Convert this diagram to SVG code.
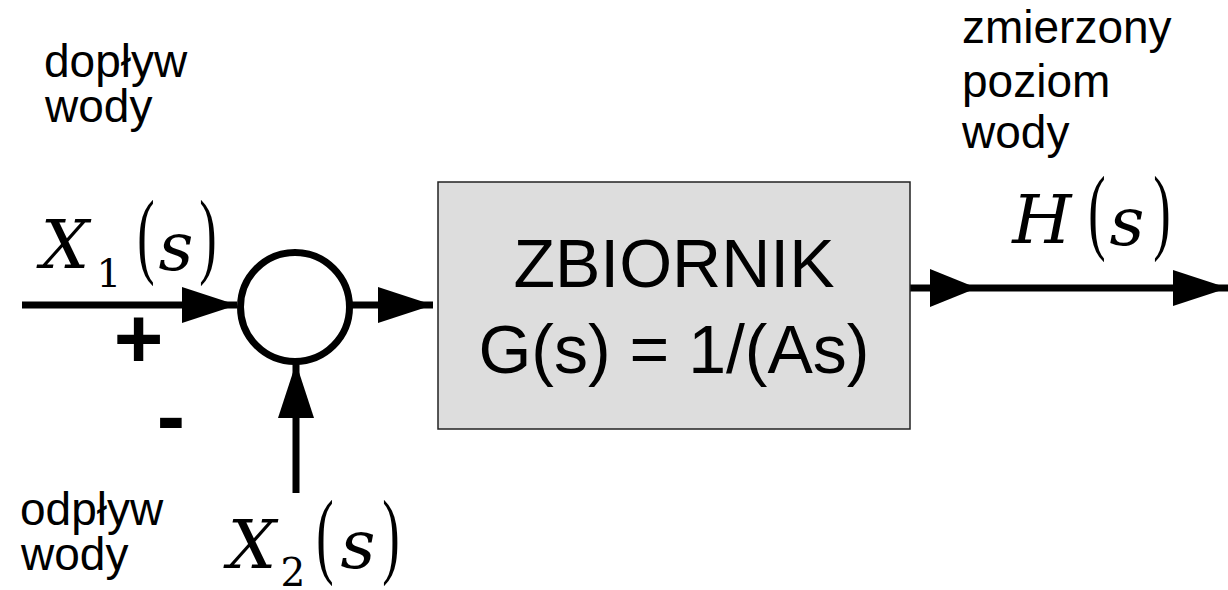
<svg xmlns="http://www.w3.org/2000/svg" width="1228" height="590" viewBox="0 0 1228 590">
<style>
.lbl{font-family:"Liberation Sans",Arial,sans-serif;font-size:46px;fill:#000}
.box{font-family:"Liberation Sans",Arial,sans-serif;font-size:68px;fill:#000;text-anchor:middle}
.sign{font-family:"Liberation Sans",Arial,sans-serif;font-size:85px;font-weight:bold;fill:#000;text-anchor:middle}
.m{font-family:"DejaVu Serif","Liberation Serif",serif;font-style:italic;font-size:68px;fill:#000;text-anchor:middle}
.sub{font-family:"DejaVu Serif","Liberation Serif",serif;font-size:39px;fill:#000;text-anchor:middle}
.par{font-family:"Liberation Serif","Times New Roman",serif;font-size:95px;fill:#000;text-anchor:middle}
.wire{stroke:#000;stroke-width:7;fill:none}
</style>
<defs>
<marker id="ah" viewBox="0 0 55 36" refX="55" refY="18" markerWidth="55" markerHeight="36" markerUnits="userSpaceOnUse" orient="auto">
<polygon points="0,0 55,18 0,36" fill="#000"/>
</marker>
<marker id="ahs" viewBox="0 0 47 38" refX="47" refY="19" markerWidth="47" markerHeight="38" markerUnits="userSpaceOnUse" orient="auto">
<polygon points="0,0 47,19 0,38" fill="#000"/>
</marker>
</defs>

<g id="connectors">
<line class="wire" x1="22" y1="305" x2="237" y2="305" marker-end="url(#ah)"/>
<line class="wire" x1="352" y1="305" x2="433" y2="305" marker-end="url(#ah)"/>
<line class="wire" x1="296" y1="493" x2="296" y2="363" marker-end="url(#ah)"/>
<path class="wire" d="M909,288 L977,288 L1228,288" marker-mid="url(#ahs)" marker-end="url(#ah)"/>
</g>

<g id="sum">
<circle cx="295" cy="307" r="54.5" fill="#fff" stroke="#000" stroke-width="7"/>
</g>

<g id="tank">
<rect x="438" y="182" width="472" height="247" fill="#dddddd" stroke="#222" stroke-width="1.5"/>
<text class="box" x="674" y="287">ZBIORNIK</text>
<text class="box" x="674" y="373">G(s) = 1/(As)</text>
</g>

<g id="signs">
<text class="sign" x="138.5" y="368">+</text>
<text class="sign" x="171" y="445">-</text>
</g>

<g id="x1">
<text class="m" x="65" y="268">X</text>
<text class="sub" x="109" y="287">1</text>
<text class="par" transform="translate(146,266) scale(0.55,1)">(</text>
<text class="m" x="176" y="270">s</text>
<text class="par" transform="translate(208,266) scale(0.55,1)">)</text>
</g>

<g id="x2">
<text class="m" x="252" y="568">X</text>
<text class="sub" x="293" y="586">2</text>
<text class="par" transform="translate(325,566) scale(0.55,1)">(</text>
<text class="m" x="358" y="568">s</text>
<text class="par" transform="translate(391,566) scale(0.55,1)">)</text>
</g>

<g id="h">
<text class="m" x="1042" y="243">H</text>
<text class="par" transform="translate(1097,242) scale(0.55,1)">(</text>
<text class="m" x="1127" y="245">s</text>
<text class="par" transform="translate(1162,242) scale(0.55,1)">)</text>
</g>

<g id="labels">
<text class="lbl" x="44" y="77">dopływ</text>
<text class="lbl" x="45" y="122">wody</text>
<text class="lbl" x="20" y="525">odpływ</text>
<text class="lbl" x="21" y="570">wody</text>
<text class="lbl" x="962" y="43">zmierzony</text>
<text class="lbl" x="962" y="97">poziom</text>
<text class="lbl" x="962" y="148">wody</text>
</g>
</svg>
